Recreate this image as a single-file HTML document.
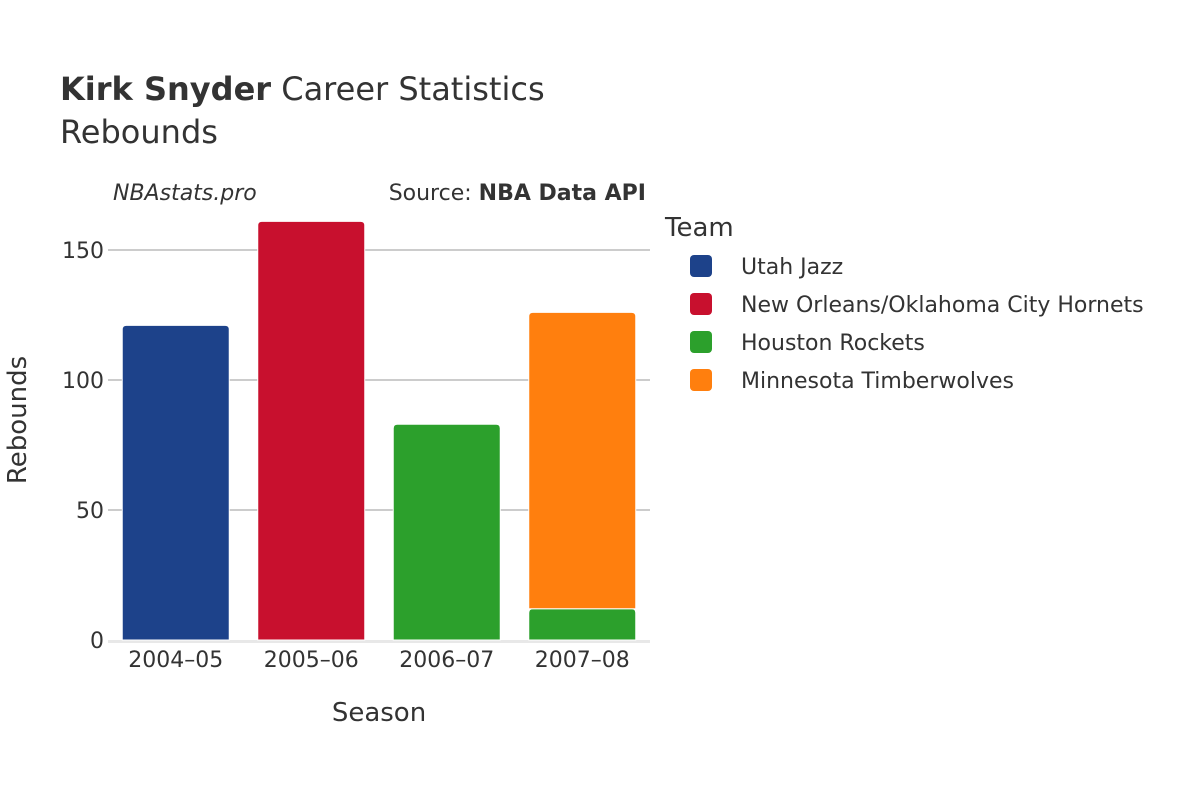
<!DOCTYPE html>
<html><head><meta charset="utf-8"><style>
html,body{margin:0;padding:0;background:#fff;}
svg text{font-family:"DejaVu Sans","Liberation Sans",sans-serif;fill:#333;}
</style></head><body>
<svg id="chart" width="1200" height="800" viewBox="0 0 1200 800">
<text x="60" y="100" font-size="32"><tspan font-weight="bold">Kirk Snyder</tspan> Career Statistics</text>
<text x="60" y="143" font-size="32">Rebounds</text>
<text x="113" y="200" font-size="22" font-style="italic">NBAstats.pro</text>
<text x="646" y="200" font-size="22" text-anchor="end">Source: <tspan font-weight="bold">NBA Data API</tspan></text>
<g id="grid"></g>
<g id="bars"></g>
<g id="xticks"></g>
<text x="379" y="721" font-size="26" text-anchor="middle">Season</text>
<text transform="translate(26,420) rotate(-90)" font-size="26" text-anchor="middle">Rebounds</text>
<text x="665" y="236" font-size="26">Team</text>
<g id="legend"></g>
</svg>
<script>
const seasons = ["2004–05","2005–06","2006–07","2007–08"];
const teams = ["Utah Jazz","New Orleans/Oklahoma City Hornets","Houston Rockets","Minnesota Timberwolves"];
const teamColors = ["#1d428a","#c8102e","#2ca02c","#ff7f0e"];
const utahJazz = [121,0,0,0];
const hornets = [0,161,0,0];
const rockets = [0,0,83,12];
const timberwolves = [0,0,0,114];
const yTicks = [0,50,100,150];

const series = [utahJazz, hornets, rockets, timberwolves];
const NS = "http://www.w3.org/2000/svg";
const plotL = 108, plotR = 650, y0 = 640, yPerUnit = 2.6;
const band = (plotR - plotL) / seasons.length, barW = 107;
function yScale(v){ return y0 - v * yPerUnit; }
function xCenter(i){ return plotL + band * (i + 0.5); }
function mk(tag, attrs, parent){ const e = document.createElementNS(NS, tag); for (const k in attrs) e.setAttribute(k, attrs[k]); parent.appendChild(e); return e; }

const grid = document.getElementById('grid');
yTicks.forEach(t => {
  if (t > 0) {
    const l = mk('line', {x1: plotL, x2: plotR, y1: yScale(t), y2: yScale(t), stroke: '#999', 'stroke-width': 1}, grid);
    
    
  }
  const tx = mk('text', {x: 104, y: yScale(t) + 8, 'font-size': 22, 'text-anchor': 'end'}, grid);
  tx.textContent = t;
  
  
});
const zl = mk('line', {x1: plotL, x2: plotR, y1: y0 + 1.5, y2: y0 + 1.5, stroke: '#e8e8e8', 'stroke-width': 3}, grid);



const bars = document.getElementById('bars');
seasons.forEach((s, i) => {
  let base = 0;
  series.forEach((arr, si) => {
    const v = arr[i];
    if (!v) return;
    const top = yScale(base + v), bot = yScale(base);
    const x = xCenter(i) - barW / 2, h = bot - top, r = 4;
    const d = `M${x},${bot} V${top + r} Q${x},${top} ${x + r},${top} H${x + barW - r} Q${x + barW},${top} ${x + barW},${top + r} V${bot} Z`;
    const p = mk('path', {d: d, fill: teamColors[si], stroke: '#fff', 'stroke-width': 1}, bars);
    
    
    base += v;
  });
  const tx = mk('text', {x: xCenter(i), y: 667, 'font-size': 22, 'text-anchor': 'middle'}, document.getElementById('xticks'));
  tx.textContent = s;
  
  
});

const legend = document.getElementById('legend');
teams.forEach((t, i) => {
  const y = 266 + i * 38;
  const g = mk('g', {}, legend);
  
  
  mk('rect', {x: 690, y: y - 11, width: 22, height: 22, rx: 4, fill: teamColors[i]}, g);
  const tx = mk('text', {x: 741, y: y + 8, 'font-size': 22}, g);
  tx.textContent = t;
});
</script>
</body></html>
